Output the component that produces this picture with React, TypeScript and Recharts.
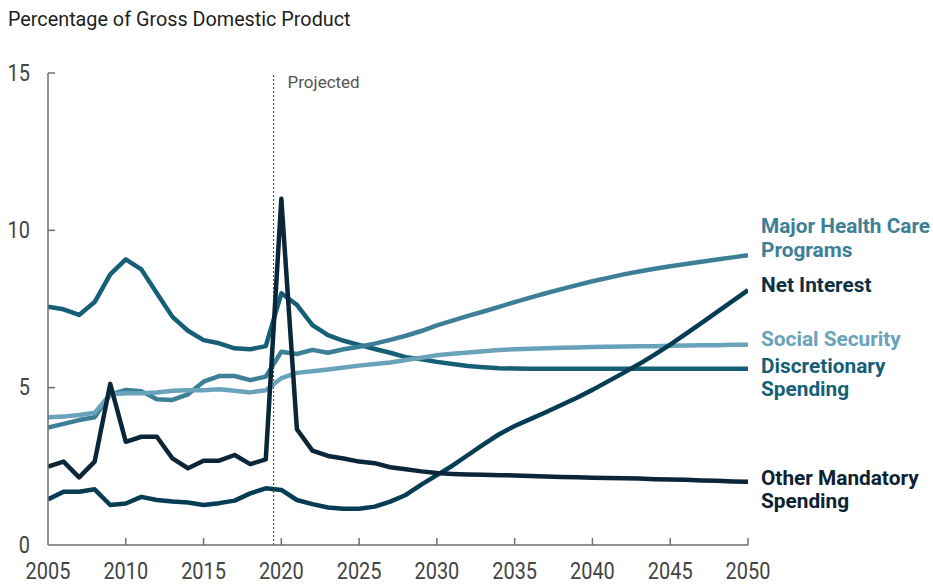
import React from 'react';
import { LineChart, Line, XAxis, YAxis, ReferenceLine, LabelList } from 'recharts';

const years = [
  2005, 2006, 2007, 2008, 2009, 2010, 2011, 2012, 2013, 2014, 2015, 2016, 2017, 2018, 2019,
  2020, 2021, 2022, 2023, 2024, 2025, 2026, 2027, 2028, 2029,
  2030, 2031, 2032, 2033, 2034, 2035, 2036, 2037, 2038, 2039,
  2040, 2041, 2042, 2043, 2044, 2045, 2046, 2047, 2048, 2049, 2050,
];

const discretionary = [
  7.57, 7.49, 7.31, 7.72, 8.6, 9.08, 8.76, 8.0, 7.25, 6.81, 6.51, 6.41, 6.25, 6.22, 6.32,
  8.0, 7.63, 6.99, 6.67, 6.49, 6.36, 6.23, 6.11, 5.97, 5.9,
  5.82, 5.75, 5.69, 5.65, 5.62, 5.61, 5.6, 5.6, 5.6, 5.6,
  5.6, 5.6, 5.6, 5.6, 5.6, 5.6, 5.6, 5.6, 5.6, 5.6, 5.6,
];

const healthCare = [
  3.73, 3.85, 3.97, 4.06, 4.78, 4.93, 4.89, 4.63, 4.61, 4.79, 5.19, 5.37, 5.37, 5.24, 5.35,
  6.14, 6.07, 6.2, 6.11, 6.22, 6.3, 6.4, 6.52, 6.65, 6.8,
  6.98, 7.13, 7.28, 7.42, 7.57, 7.72, 7.86, 8.0, 8.13, 8.26,
  8.38, 8.49, 8.6, 8.69, 8.78, 8.86, 8.93, 9.0, 9.07, 9.14, 9.21,
];

const socialSecurity = [
  4.06, 4.08, 4.13, 4.2, 4.79, 4.82, 4.82, 4.85, 4.9, 4.92, 4.92, 4.95, 4.9, 4.85, 4.92,
  5.3, 5.47, 5.52, 5.58, 5.64, 5.7, 5.75, 5.8, 5.88, 5.95,
  6.03, 6.08, 6.12, 6.16, 6.2, 6.22, 6.24, 6.25, 6.27, 6.28,
  6.29, 6.3, 6.31, 6.32, 6.32, 6.33, 6.34, 6.35, 6.35, 6.36, 6.36,
];

const netInterest = [
  1.45, 1.69, 1.69, 1.77, 1.27, 1.32, 1.53, 1.43, 1.38, 1.35, 1.27, 1.33, 1.41, 1.64, 1.8,
  1.75, 1.43, 1.3, 1.19, 1.15, 1.15, 1.22, 1.38, 1.59, 1.92,
  2.22, 2.52, 2.86, 3.2, 3.52, 3.78, 4.0, 4.22, 4.45, 4.68,
  4.93, 5.2, 5.47, 5.75, 6.05, 6.37, 6.71, 7.05, 7.4, 7.75, 8.1,
];

const otherMandatory = [
  2.49, 2.65, 2.15, 2.65, 5.12, 3.28, 3.44, 3.44, 2.75, 2.44, 2.68, 2.68, 2.86, 2.57, 2.72,
  11.0, 3.68, 3.0, 2.83, 2.75, 2.65, 2.6, 2.47, 2.41, 2.34,
  2.29, 2.26, 2.24, 2.23, 2.22, 2.21, 2.19, 2.18, 2.16, 2.15,
  2.14, 2.13, 2.12, 2.11, 2.09, 2.08, 2.07, 2.05, 2.04, 2.02, 2.01,
];

const xTicks = [2005, 2010, 2015, 2020, 2025, 2030, 2035, 2040, 2045, 2050];
const yTicks = [0, 5, 10, 15];
const projectedStart = 2019.5;

const data = years.map((year, i) => ({
  year,
  discretionary: discretionary[i],
  healthCare: healthCare[i],
  socialSecurity: socialSecurity[i],
  netInterest: netInterest[i],
  otherMandatory: otherMandatory[i],
}));

const AXIS = '#6e6e6e';
const FONT = 'Roboto, "Liberation Sans", Arial, sans-serif';
const TICK_FONT = 'Roboto, "Liberation Sans", sans-serif';
const TICK_COLOR = '#444';
const DIGIT_W = 11.2;

const C_DISC = '#165f77';
const C_HEALTH = '#3e7f98';
const C_SS = '#69a3bb';
const C_NET = '#063d54';
const C_OTHER = '#0b2539';

const Y_MARGIN = 18;
const X_MARGIN = 17;

function YTick(props: any) {
  const { x, y, payload } = props;
  const ax = x + Y_MARGIN;
  const s = String(payload.value);
  return (
    <g>
      {payload.value !== 0 && (
        <line x1={ax} x2={ax + 7} y1={y} y2={y} stroke={AXIS} strokeWidth={1.5} />
      )}
      <text
        x={x}
        y={y}
        textAnchor="end"
        dominantBaseline="central"
        fontSize={23}
        fill={TICK_COLOR}
        fontFamily={TICK_FONT}
        textLength={s.length * DIGIT_W}
        lengthAdjust="spacingAndGlyphs"
      >
        {s}
      </text>
    </g>
  );
}

function XTick(props: any) {
  const { x, y, payload } = props;
  const ay = y - X_MARGIN;
  const s = String(payload.value);
  return (
    <g>
      {payload.value !== 2005 && (
        <line x1={x} x2={x} y1={ay} y2={ay - 7} stroke={AXIS} strokeWidth={1.5} />
      )}
      <text
        x={x}
        y={y}
        dy="0.72em"
        textAnchor="middle"
        fontSize={23}
        fill={TICK_COLOR}
        fontFamily={TICK_FONT}
        textLength={s.length * DIGIT_W}
        lengthAdjust="spacingAndGlyphs"
      >
        {s}
      </text>
    </g>
  );
}

const endLabel = (lines: string[], color: string, dy: number) => (p: any) => {
  if (p.index !== years.length - 1) return null;
  const px = p.x ?? p.viewBox?.x;
  const py = p.y ?? p.viewBox?.y;
  if (px == null || py == null) return null;
  const lx = px + 13;
  return (
    <text x={lx} y={py + dy} fill={color} fontSize={20.8} fontWeight={700} fontFamily={FONT} dominantBaseline="central">
      {lines.map((l, i) => (
        <tspan key={i} x={lx} dy={i === 0 ? 0 : 23.5}>
          {l}
        </tspan>
      ))}
    </text>
  );
};

const projectedLabel = (p: any) => {
  const vb = p.viewBox || {};
  return (
    <text x={vb.x + 14} y={vb.y + 9} fill="#555" fontSize={17} fontFamily={FONT} dominantBaseline="central">
      Projected
    </text>
  );
};

export default function App() {
  return (
    <div style={{ position: 'absolute', left: 0, top: 0, width: 933, height: 584, background: '#fff' }}>
      <div
        style={{
          position: 'absolute',
          left: 8,
          top: 8,
          fontFamily: FONT,
          fontSize: 19.8,
          lineHeight: '24px',
          color: '#1e1e1e',
          whiteSpace: 'nowrap',
        }}
      >
        Percentage of Gross Domestic Product
      </div>
      <LineChart
        width={933}
        height={584}
        data={data}
        margin={{ top: 73, right: 185, bottom: 0, left: 0 }}
      >
        <XAxis
          dataKey="year"
          type="number"
          domain={[2005, 2050]}
          ticks={xTicks}
          interval={0}
          height={39}
          tickSize={0}
          tickMargin={X_MARGIN}
          tickLine={false}
          axisLine={{ stroke: AXIS, strokeWidth: 1.5 }}
          tick={<XTick />}
          allowDataOverflow
        />
        <YAxis
          type="number"
          domain={[0, 15]}
          ticks={yTicks}
          interval={0}
          width={48}
          tickSize={0}
          tickMargin={Y_MARGIN}
          tickLine={false}
          axisLine={{ stroke: AXIS, strokeWidth: 1.5 }}
          tick={<YTick />}
          allowDataOverflow
        />
        <ReferenceLine
          x={projectedStart}
          stroke="#555"
          strokeWidth={1.2}
          strokeDasharray="2 2"
          label={projectedLabel}
        />
        <Line dataKey="discretionary" stroke={C_DISC} strokeWidth={4.5} dot={false} isAnimationActive={false} strokeLinejoin="round">
          <LabelList dataKey="discretionary" content={endLabel(['Discretionary', 'Spending'], C_DISC, -3)} />
        </Line>
        <Line dataKey="healthCare" stroke={C_HEALTH} strokeWidth={4.5} dot={false} isAnimationActive={false} strokeLinejoin="round">
          <LabelList dataKey="healthCare" content={endLabel(['Major Health Care', 'Programs'], C_HEALTH, -29)} />
        </Line>
        <Line dataKey="socialSecurity" stroke={C_SS} strokeWidth={4.5} dot={false} isAnimationActive={false} strokeLinejoin="round">
          <LabelList dataKey="socialSecurity" content={endLabel(['Social Security'], C_SS, -6)} />
        </Line>
        <Line dataKey="netInterest" stroke={C_NET} strokeWidth={4.5} dot={false} isAnimationActive={false} strokeLinejoin="round">
          <LabelList dataKey="netInterest" content={endLabel(['Net Interest'], '#0a3146', -5)} />
        </Line>
        <Line dataKey="otherMandatory" stroke={C_OTHER} strokeWidth={4.5} dot={false} isAnimationActive={false} strokeLinejoin="round">
          <LabelList dataKey="otherMandatory" content={endLabel(['Other Mandatory', 'Spending'], '#0c2232', -4)} />
        </Line>
      </LineChart>
    </div>
  );
}
